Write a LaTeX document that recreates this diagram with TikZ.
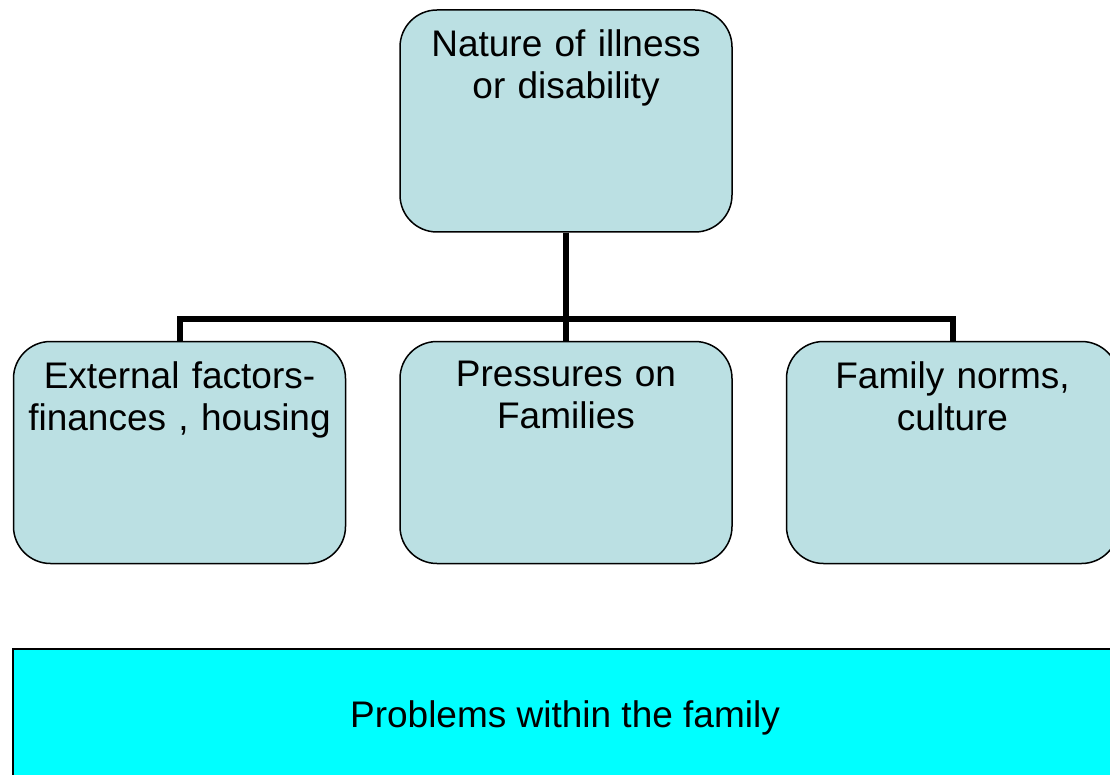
\documentclass[tikz,border=0pt]{standalone}
\usepackage{fontspec}
\setmainfont{Liberation Sans}
\usepackage{tikz}
\usetikzlibrary{positioning,calc}
\definecolor{boxblue}{HTML}{BBE0E3}
\definecolor{probcyan}{HTML}{00FFFF}

\begin{document}
\begin{tikzpicture}[
    x=1pt, y=-1pt,
    font=\fontsize{37}{42}\selectfont,
    unit/.style={draw=black, rounded corners=37pt, minimum width=332pt, minimum height=222pt, fill=boxblue, line width=1.5pt, inner sep=0pt},
    unittext/.style={anchor=north, text width=330pt, align=center, inner sep=0pt, yshift=-20.5pt},
    link/.style={line width=6pt},
    problem/.style={draw=black, fill=probcyan, line width=2pt, minimum width=1104pt, minimum height=138pt, inner sep=0pt},
    node distance=53pt
]
\useasboundingbox (0,0) rectangle (1110,775);

\node[unit] (nat) at (566,121) {};
\node[unit] (pres) at (566,452.5) {};
\node[unit, left=of pres] (ext) {};
\node[unit, right=of pres] (norm) {};

\node[unittext] (nat-t) at (nat.north) {Nature of illness\\or disability};
\node[unittext] (ext-t) at (ext.north) {External factors-\\finances , housing};
\node[unittext] (pres-t) at (pres.north) {Pressures on\\Families};
\node[unittext] (norm-t) at (norm.north) {Family norms,\\culture};

\foreach \c in {ext, pres, norm}
  \draw[link] (nat.south) -- ++(0,86) -| (\c.north);

\node[problem] (prob) at (565,718) {Problems within the family};
\end{tikzpicture}
\end{document}
